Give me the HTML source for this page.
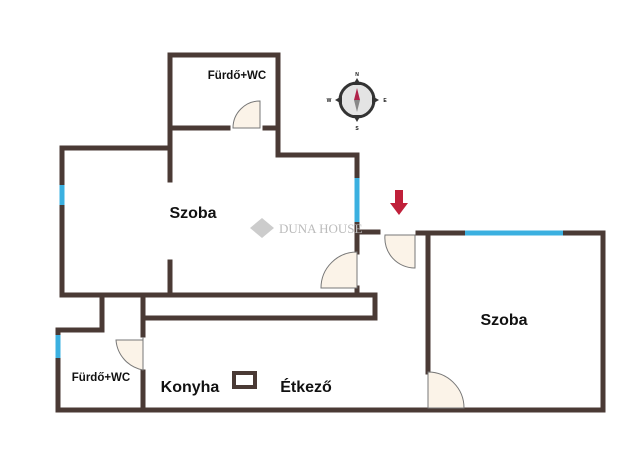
<!DOCTYPE html>
<html><head><meta charset="utf-8"><style>
body{margin:0;background:#fff;width:640px;height:455px;overflow:hidden}
svg text{font-family:"Liberation Sans",sans-serif;font-weight:bold;fill:#111}
</style></head><body>
<svg width="640" height="455" viewBox="0 0 640 455" xmlns="http://www.w3.org/2000/svg">
<g stroke="#4a3a35" stroke-width="5" fill="none" stroke-linecap="square">
<polyline points="170,180 170,55 278,55 278,155 357,155 357,178"/>
<line x1="170" y1="128" x2="228" y2="128"/>
<line x1="265" y1="128" x2="278" y2="128"/>
<line x1="357" y1="222" x2="357" y2="252"/>
<line x1="357" y1="232" x2="378" y2="232"/>
<polyline points="170,148 62,148 62,185"/>
<line x1="62" y1="205" x2="62" y2="295"/>
<line x1="170" y1="262" x2="170" y2="295"/>
<line x1="357" y1="288" x2="357" y2="295"/>
<polyline points="62,295 375,295 375,318 143,318"/>
<line x1="143" y1="295" x2="143" y2="335"/>
<line x1="143" y1="372" x2="143" y2="410"/>
<polyline points="102,295 102,330 58,330 58,335"/>
<line x1="58" y1="358" x2="58" y2="410"/>
<line x1="58" y1="410" x2="603" y2="410"/>
<line x1="418" y1="233" x2="465" y2="233"/>
<polyline points="563,233 603,233 603,410"/>
<line x1="428" y1="233" x2="428" y2="372"/>
<rect x="234" y="373" width="21" height="14" stroke-width="4"/>
</g>
<g stroke="#3bb0e0" stroke-width="5">
<line x1="62" y1="185" x2="62" y2="205"/>
<line x1="357" y1="178" x2="357" y2="222"/>
<line x1="465" y1="233" x2="563" y2="233"/>
<line x1="58" y1="335" x2="58" y2="358"/>
</g>
<g fill="#fbf3e8" stroke="#777" stroke-width="1">
<path d="M260,128 L260,101 A27,27 0 0 0 233,128 Z"/>
<path d="M357,252 L357,288 L321,288 A36,36 0 0 1 357,252 Z"/>
<path d="M415,235 L415,268 A30,30 0 0 1 385,235 Z"/>
<path d="M143,337 L143,370 A33,33 0 0 1 116,340 L143,340 Z"/>
<path d="M428,372 A36,36 0 0 1 464,408 L428,408 Z"/>
</g>
<g>
<circle cx="357" cy="100" r="17" fill="#e4e4e4" stroke="#333" stroke-width="3"/>
<polygon points="357,78 353,85 361,85" fill="#333"/><polygon points="357,122 353,115 361,115" fill="#333"/>
<polygon points="335,100 342,96 342,104" fill="#333"/><polygon points="379,100 372,96 372,104" fill="#333"/>
<polygon points="357,88 354,100 360,100" fill="#b0234a"/><polygon points="357,112 354,100 360,100" fill="#888"/>
<text x="357" y="76" font-size="5" text-anchor="middle">N</text>
<text x="357" y="130" font-size="5" text-anchor="middle">S</text>
<text x="329" y="102" font-size="5" text-anchor="middle">W</text>
<text x="385" y="102" font-size="5" text-anchor="middle">E</text>
</g>
<polygon points="395,190 403,190 403,203 408,203 399,215 390,203 395,203" fill="#c0203a"/>
<polygon points="262,218 274,228 262,238 250,228" fill="#ccc"/>
<text x="279" y="233" font-size="13" style="font-family:'Liberation Serif',serif;font-weight:normal;fill:#bbb">DUNA HOUSE</text>
<text x="237" y="79" font-size="11.5" text-anchor="middle">Fürdő+WC</text>
<text x="193" y="218" font-size="16" text-anchor="middle">Szoba</text>
<text x="504" y="325" font-size="16" text-anchor="middle">Szoba</text>
<text x="101" y="381" font-size="11.5" text-anchor="middle">Fürdő+WC</text>
<text x="190" y="392" font-size="16" text-anchor="middle">Konyha</text>
<text x="306" y="392" font-size="16" text-anchor="middle">Étkező</text>
</svg>
</body></html>
